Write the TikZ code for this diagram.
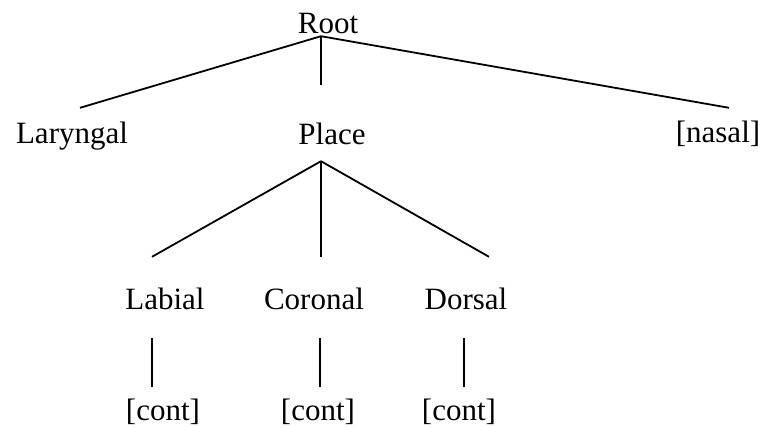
\documentclass[tikz,border=0pt]{standalone}
\usepackage{fontspec}
\setmainfont{Liberation Serif}
\usepackage{tikz}

\begin{document}
\begin{tikzpicture}[
  x=1pt, y=-1pt,
  feat/.style={inner sep=0pt, anchor=base, text height=21pt, text depth=0pt,
               font=\fontsize{31}{37}\selectfont},
  branch/.style={line width=1.8pt}
]
\useasboundingbox (0,0) rectangle (762,426);

\node[feat] (root)     at (328,33)  {Root};
\node[feat] (laryngal) at (72,143)  {Laryngal};
\node[feat] (place)    at (332,144) {Place};
\node[feat] (nasal)    at (718,142) {[nasal]};
\node[feat] (labial)   at (165,309) {Labial};
\node[feat] (coronal)  at (314,309) {Coronal};
\node[feat] (dorsal)   at (466,309) {Dorsal};
\node[feat] (contlab)  at (163,420) {[cont]};
\node[feat] (contcor)  at (318,420) {[cont]};
\node[feat] (contdor)  at (459,420) {[cont]};

% root level
\draw[branch] ([xshift=-7pt,yshift=-3pt]root.south) -- ([xshift=8pt,yshift=14pt]laryngal.north);
\draw[branch] ([xshift=-7pt,yshift=-3pt]root.south) -- ([xshift=-11pt,yshift=38pt]place.north);
\draw[branch] ([xshift=-7pt,yshift=-3pt]root.south) -- ([xshift=11pt,yshift=13pt]nasal.north);

% place
\draw[branch] ([xshift=-11pt,yshift=-17pt]place.south) -- ([xshift=-13pt,yshift=31pt]labial.north);
\draw[branch] ([xshift=-11pt,yshift=-17pt]place.south) -- ([xshift=7pt,yshift=31pt]coronal.north);
\draw[branch] ([xshift=-11pt,yshift=-17pt]place.south) -- ([xshift=23pt,yshift=31pt]dorsal.north);

% continuant
\draw[branch] ([xshift=-13pt,yshift=-29pt]labial.south) -- ([xshift=-11pt,yshift=12pt]contlab.north);
\draw[branch] ([xshift=6pt,yshift=-29pt]coronal.south) -- ([xshift=2pt,yshift=12pt]contcor.north);
\draw[branch] ([xshift=-2pt,yshift=-29pt]dorsal.south) -- ([xshift=5pt,yshift=12pt]contdor.north);
\end{tikzpicture}
\end{document}
